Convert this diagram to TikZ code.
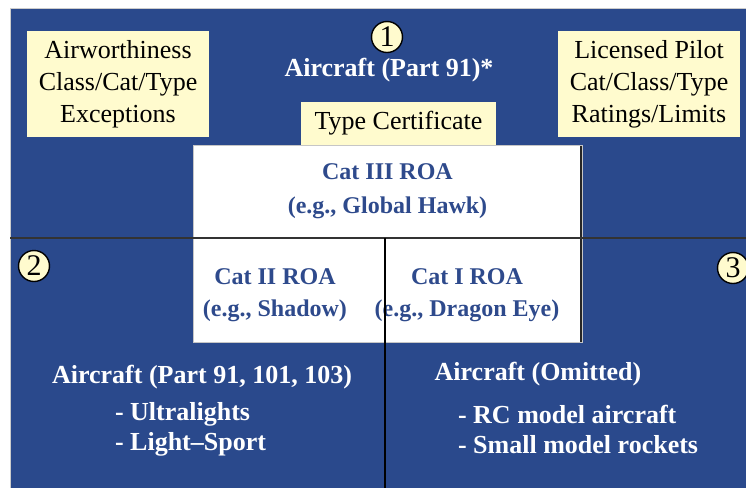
\documentclass[tikz,border=0pt]{standalone}
\usepackage{fontspec}
\setmainfont{Liberation Serif}
\usepackage{tikz}
\definecolor{faablue}{RGB}{42,73,140}
\definecolor{faacream}{RGB}{255,251,206}
\definecolor{roablue}{RGB}{46,74,140}
\tikzset{
% Boxes: yellow notes and white ROA boxes
note box/.style={rectangle,fill=faacream,inner sep=0,align=center,font=\fontsize{13}{16}\selectfont},
roa box/.style={rectangle,fill=white,draw=gray!45,inner sep=0},
right edge/.style={path picture={\draw[line width=2pt,black!85] (path picture bounding box.north east) -- (path picture bounding box.south east);}},
% Texts and numbered circles
roa text/.style={align=center,text=roablue,font=\fontsize{12}{17}\selectfont\bfseries},
part text/.style={text=white,align=left,font=\fontsize{13}{15}\selectfont\bfseries},
num node/.style={circle,draw,line width=0.7pt,fill=faacream,inner sep=0,minimum size=15.5pt,font=\fontsize{15}{15}\selectfont}
}

\begin{document}
\begin{tikzpicture}[x=0.5pt,y=-0.5pt]
\useasboundingbox (0,0) rectangle (746,488);
% Background
\fill[faablue] (10,8) rectangle (746,488);
\draw[gray!40] (10,488) -- (10,8) -- (746,8);
% Yellow boxes
\node(airworthiness)[note box,minimum width=91pt,minimum height=53pt] at (118,84) {Airworthiness\\Class/Cat/Type\\Exceptions};
\node(pilot)[note box,minimum width=91pt,minimum height=53pt] at (649,84) {Licensed Pilot\\Cat/Class/Type\\Ratings/Limits};
\node(type)[note box,minimum width=97.5pt,minimum height=21.5pt] at (398.5,123.5) {Type Certificate};
% White boxes
\node(cat3)[roa box,right edge,roa text,minimum width=194.5pt,minimum height=46.5pt] at (387.5,191.5) {Cat III ROA\\(e.g., Global Hawk)};
\node(cat2)[roa box,minimum width=96pt,minimum height=52pt] at (289,290) {};
\node(cat1)[roa box,right edge,minimum width=98.5pt,minimum height=52pt] at (483.5,290) {};
\node(cat2 text)[roa text,font=\fontsize{12}{16}\selectfont\bfseries] at (275,295) {Cat II ROA\\(e.g., Shadow)};
\node(cat1 text)[roa text,font=\fontsize{12}{16}\selectfont\bfseries] at (467,295) {Cat I ROA\\(e.g., Dragon Eye)};
% Dividers
\coordinate(west) at (10,238);
\coordinate(east) at (746,238);
\coordinate(mid) at (385,238);
\coordinate(bottom) at (385,488);
\draw[black!80,line width=1pt] (west) -- (east);
\draw[black,line width=1pt] (mid) -- (bottom);
% Regions
\node(part91)[part text] at (389,70) {Aircraft (Part 91)*};
\node(part103)[part text] at (202,377) {Aircraft (Part 91, 101, 103)};
\node(light)[part text,anchor=west] at (108,429) {- Ultralights\\- Light--Sport};
\node(omitted)[part text] at (538,374) {Aircraft (Omitted)};
\node(model)[part text,anchor=west] at (451,429) {- RC model aircraft\\- Small model rockets};
\node(n1)[num node] at (387,37) {1};
\node(n2)[num node] at (34,266) {2};
\node(n3)[num node] at (733,268) {3};
\end{tikzpicture}
\end{document}
